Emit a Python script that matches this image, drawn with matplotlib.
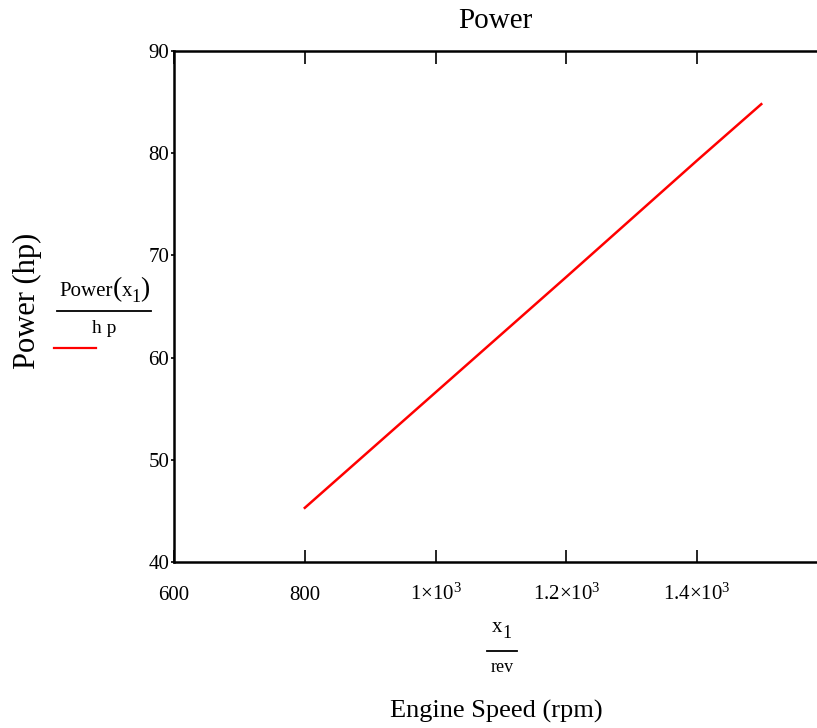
import matplotlib
matplotlib.use("Agg")
import matplotlib.pyplot as plt
from matplotlib.lines import Line2D

plt.rcParams['font.family'] = ['Liberation Serif', 'DejaVu Serif']
plt.rcParams['mathtext.fontset'] = 'custom'
plt.rcParams['mathtext.rm'] = 'Liberation Serif'
plt.rcParams['mathtext.it'] = 'Liberation Serif:italic'

# data
engine_speed = [800, 1000, 1200, 1400, 1498]
power_hp = [45.3, 56.6, 67.9, 79.3, 84.8]

xticks = [600, 800, 1000, 1200, 1400]
xtick_labels = ["600", "800", r"1×10$^{3}$", r"1.2×10$^{3}$", r"1.4×10$^{3}$"]
yticks = [40, 50, 60, 70, 80, 90]
ytick_labels = ["40", "50", "60", "70", "80", "90"]

W, H = 817, 728
fig = plt.figure(figsize=(W / 100, H / 100), dpi=100)
ax = fig.add_axes([174 / W, (H - 562) / H, (828 - 174) / W, (562 - 51) / H])

ax.plot(engine_speed, power_hp, color='#ff0000', lw=1.8)
ax.set_xlim(600, 1600)
ax.set_ylim(40, 90)

ax.set_xticks(xticks)
ax.set_xticklabels(xtick_labels)
ax.set_yticks(yticks)
ax.set_yticklabels(ytick_labels)

for s in ax.spines.values():
    s.set_linewidth(1.8)
    s.set_color('black')

ax.tick_params(axis='x', direction='in', length=9, width=1.2, top=True, bottom=True,
               labelsize=15, pad=27)
ax.tick_params(axis='y', direction='out', length=2.5, width=1.2, labelsize=15, pad=1)
for lbl in ax.get_xticklabels():
    lbl.set_verticalalignment('baseline')

fig.text(495 / W, 1 - 21 / H, "Power", ha='center', va='center', fontsize=21)

# y label and legend
fig.text(27 / W, 1 - 301 / H, "Power (hp)", ha='center', va='center',
         rotation=90, fontsize=22)

# legend expression: Power(x1) / hp
ty = 1 - 292 / H
fig.text(86 / W, ty, "Power", ha='center', va='center', fontsize=15)
fig.text(117 / W, 1 - 290 / H, "(", ha='center', va='center', fontsize=20)
fig.text(127.5 / W, ty, "x", ha='center', va='center', fontsize=15)
fig.text(136 / W, 1 - 297 / H, "1", ha='center', va='center', fontsize=13)
fig.text(145 / W, 1 - 290 / H, ")", ha='center', va='center', fontsize=20)
fig.add_artist(Line2D([57 / W, 151 / W], [1 - 311 / H, 1 - 311 / H],
                      color='black', lw=1.3, transform=fig.transFigure))
fig.text(104 / W, 1 - 329 / H, "h p", ha='center', va='center', fontsize=14)
fig.add_artist(Line2D([54 / W, 96 / W], [1 - 348 / H, 1 - 348 / H],
                      color='#ff0000', lw=1.6, transform=fig.transFigure))

# x label
fig.text(497 / W, 1 - 628 / H, "x", ha='center', va='center', fontsize=15)
fig.text(507 / W, 1 - 634 / H, "1", ha='center', va='center', fontsize=13)
fig.add_artist(Line2D([487 / W, 517 / W], [1 - 651 / H, 1 - 651 / H],
                      color='black', lw=1.3, transform=fig.transFigure))
fig.text(502 / W, 1 - 668 / H, "rev", ha='center', va='center', fontsize=13)
fig.text(496 / W, 1 - 711 / H, "Engine Speed (rpm)", ha='center', va='center',
         fontsize=19)

fig.savefig("out.png", dpi=100)
